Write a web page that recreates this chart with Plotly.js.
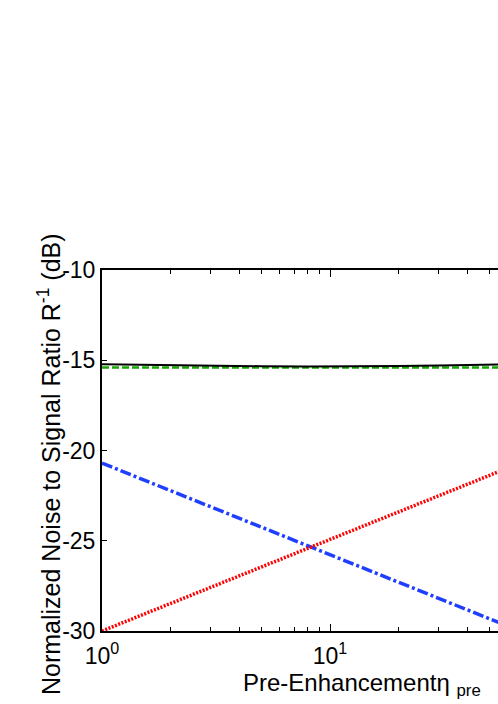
<!DOCTYPE html>
<html>
<head>
<meta charset="utf-8">
<script src="https://cdn.plot.ly/plotly-3.0.1.min.js"></script>
<style>html,body{margin:0;padding:0;overflow:hidden;background:#fff;}</style>
</head>
<body>
<div id="chart" style="width:498px;height:704px;"></div>
<script>
// Data
const etaX = [1, 2, 3, 5, 8, 10, 15, 20, 30, 40, 55, 60];
const totalNSR = [-15.22, -15.28, -15.31, -15.33, -15.34, -15.34, -15.33, -15.32, -15.29, -15.27, -15.24, -15.23];
const greenX = [1, 60];
const greenNSR = [-15.4, -15.4];
const blueX = [1, 60];
const blueNSR = [-20.7, -29.72];
const redX = [1, 60];
const redNSR = [-30.0, -20.98];

const xTickVals = [1, 10];
const xTickText = ['10<sup>0</sup>', '10<sup>1</sup>'];
const xMinorVals = [2, 3, 4, 5, 6, 7, 8, 9, 20, 30, 40, 50];
const yTickVals = [-30, -25, -20, -15, -10];
const yTickText = ['-30', '-25', '-20', '-15', '-10'];

const traces = [
  {x: greenX, y: greenNSR, mode: 'lines', line: {color: '#14a800', width: 2.4, dash: '7px,3px'}},
  {x: etaX, y: totalNSR, mode: 'lines', line: {color: '#000000', width: 2}},
  {x: blueX, y: blueNSR, mode: 'lines', line: {color: '#1f3fff', width: 3.5, dash: '11px,3px,3px,3px'}},
  {x: redX, y: redNSR, mode: 'lines', line: {color: '#ff0000', width: 3.5, dash: '2px,1.5px'}}
];

const tickFont = {family: 'Liberation Sans, Arial, sans-serif', size: 23, color: '#000'};
const xTitleFont = {family: 'Liberation Sans, Arial, sans-serif', size: 24, color: '#000'};
const yTitleFont = {family: 'Liberation Sans, Arial, sans-serif', size: 25, color: '#000'};

const layout = {
  width: 498, height: 704,
  margin: {l: 102, r: 0, t: 270, b: 73},
  showlegend: false,
  paper_bgcolor: '#fff', plot_bgcolor: '#fff',
  font: tickFont,
  xaxis: {
    type: 'log', range: [0, (498 - 102) / 228],
    showline: true, linecolor: '#000', linewidth: 2, mirror: 'ticks',
    showgrid: false, zeroline: false,
    tickmode: 'array', tickvals: xTickVals, ticktext: xTickText,
    ticks: 'inside', ticklen: 7, tickwidth: 1, tickcolor: '#000',
    ticklabelstandoff: 3,
    tickfont: tickFont,
    minor: {tickmode: 'array', tickvals: xMinorVals, ticks: 'inside', ticklen: 4, tickwidth: 1, tickcolor: '#000', showgrid: false}
  },
  yaxis: {
    range: [-30, -10],
    showline: true, linecolor: '#000', linewidth: 2, mirror: false,
    showgrid: false, zeroline: false,
    tickmode: 'array', tickvals: yTickVals, ticktext: yTickText,
    ticks: 'inside', ticklen: 5, tickwidth: 1, tickcolor: '#000',
    tickfont: tickFont
  },
  annotations: [
    {text: 'Pre-Enhancementη <sub>pre</sub>', xref: 'paper', yref: 'paper',
     x: (362 - 102) / 396, y: (631 - 684) / 361, xanchor: 'center', yanchor: 'middle',
     showarrow: false, font: xTitleFont},
    {text: 'Normalized Noise to Signal Ratio R<sup>-1</sup> (dB)', xref: 'paper', yref: 'paper',
     x: (49 - 102) / 396, y: (631 - 464) / 361, xanchor: 'center', yanchor: 'middle',
     textangle: -90, showarrow: false, font: yTitleFont}
  ]
};

Plotly.newPlot('chart', traces, layout, {displayModeBar: false, staticPlot: true});
</script>
</body>
</html>
